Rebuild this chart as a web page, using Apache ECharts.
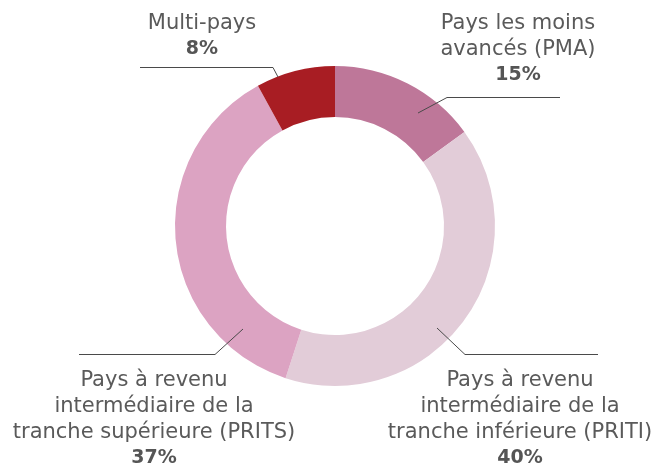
<!DOCTYPE html>
<html>
<head>
<meta charset="utf-8">
<script src="https://cdn.jsdelivr.net/npm/echarts@6/dist/echarts.min.js"></script>
<style>html,body{margin:0;padding:0;background:#fff}#c{width:656px;height:466px}</style>
</head>
<body>
<div id="c"></div>
<script>
// Data
const categories = [
  "Pays les moins\navancés (PMA)",
  "Pays à revenu\nintermédiaire de la\ntranche inférieure (PRITI)",
  "Pays à revenu\nintermédiaire de la\ntranche supérieure (PRITS)",
  "Multi-pays"
];
const shares = [15, 40, 37, 8];
const colors = ["#BE7799", "#E2CCD8", "#DCA3C2", "#A81D23"];

// Label placement (annotation layout, not data)
const labelPlacement = [
  { x: 518, y: 49,  line: [[418, 113], [447, 97.5], [560, 97.5]] },
  { x: 520, y: 419, line: [[437, 328], [465, 354.5], [598, 354.5]] },
  { x: 154, y: 419, line: [[243, 329], [215, 354.5], [79, 354.5]] },
  { x: 202, y: 36,  line: [[278, 77], [273, 67.5], [140, 67.5]] }
];

const common = {
  type: 'pie',
  center: [335, 226],
  radius: [109, 160],
  startAngle: 90,
  clockwise: true,
  avoidLabelOverlap: false,
  emphasis: { disabled: true },
  silent: true
};

const chart = echarts.init(document.getElementById('c'), null, { renderer: 'canvas' });
chart.setOption({
  animation: false,
  series: [
    Object.assign({}, common, {
      z: 2,
      itemStyle: { borderWidth: 0 },
      label: { show: false },
      labelLine: { show: false },
      data: categories.map((n, i) => ({ name: n, value: shares[i], itemStyle: { color: colors[i] } }))
    }),
    Object.assign({}, common, {
      z: 5,
      itemStyle: { color: 'rgba(0,0,0,0)', borderWidth: 0 },
      data: categories.map((n, i) => ({ name: n, value: shares[i] })),
      label: {
        show: true,
        position: 'outside',
        formatter: p => p.name + '\n{b|' + p.value + '%}',
        color: '#5a5a5a',
        fontFamily: 'DejaVu Sans',
        fontSize: 21,
        lineHeight: 26,
        align: 'center',
        rich: {
          b: { fontWeight: 'bold', fontSize: 19, lineHeight: 25, color: '#555555', fontFamily: 'DejaVu Sans' }
        }
      },
      labelLine: { show: true, lineStyle: { color: '#4a4a4a', width: 1 } },
      labelLayout: function (params) {
        const L = labelPlacement[params.dataIndex];
        return { x: L.x, y: L.y, align: 'center', verticalAlign: 'middle', labelLinePoints: L.line };
      }
    })
  ]
});
</script>
</body>
</html>
